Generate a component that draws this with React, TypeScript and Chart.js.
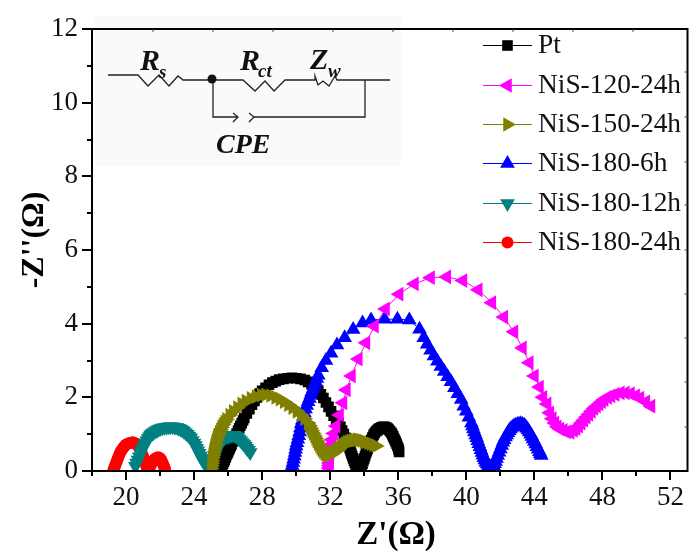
import React, { useEffect, useRef } from "react";
import { Chart, registerables } from "chart.js";
import { drawPoint } from "chart.js/helpers";

Chart.register(...registerables);

const seriesNames = ["Pt", "NiS-120-24h", "NiS-150-24h", "NiS-180-6h", "NiS-180-12h", "NiS-180-24h"];
const seriesColors = ["#000000", "#ff00ff", "#808000", "#0000ff", "#008080", "#ff0000"];
const seriesStyles = ["rect", "triangle", "triangle", "triangle", "triangle", "circle"];
const seriesRotations = [0, -90, 90, 0, 180, 0];
const seriesRadii = [7.5, 8.5, 8.5, 8.5, 8.5, 6];
const seriesOrder = [5, 1, 0, 2, 3, 4];

const ptValues = [[25.5,0],[25.55,.05],[25.6,.1],[25.65,.15],[25.7,.2],[25.75,.25],[25.8,.3],[25.85,.36],[25.9,.42],[25.95,.47],[26,.52],[26.05,.57],[26.1,.62],[26.15,.67],[26.2,.72],[26.28,.8],[26.35,.88],[26.42,.95],[26.5,1.02],[26.58,1.09],[26.65,1.16],[26.72,1.23],[26.8,1.3],[26.88,1.37],[26.95,1.44],[27.1,1.56],[27.25,1.68],[27.4,1.8],[27.55,1.9],[27.7,2],[27.85,2.1],[28,2.18],[28.2,2.26],[28.4,2.34],[28.6,2.4],[28.8,2.44],[29,2.48],[29.25,2.5],[29.5,2.52],[29.75,2.53],[30,2.52],[30.25,2.5],[30.5,2.47],[30.7,2.42],[30.9,2.36],[31.1,2.28],[31.3,2.18],[31.45,2.08],[31.6,1.98],[31.75,1.86],[31.9,1.74],[32.05,1.62],[32.2,1.5],[32.35,1.36],[32.5,1.3],[32.6,1.2],[32.7,1.1],[32.8,1],[32.9,.9],[33,.82],[33.05,.75],[33.1,.68],[33.15,.61],[33.2,.54],[33.25,.47],[33.3,.4],[33.35,.34],[33.4,.28],[33.45,.22],[33.5,.16],[33.55,.12],[33.6,.08],[33.65,.06],[33.7,.05],[33.75,.07],[33.8,.1],[33.85,.15],[33.9,.2],[33.95,.27],[34,.34],[34.05,.41],[34.1,.48],[34.15,.54],[34.2,.6],[34.25,.66],[34.3,.72],[34.35,.78],[34.4,.84],[34.48,.91],[34.55,.98],[34.62,1.03],[34.7,1.08],[34.78,1.11],[34.85,1.14],[34.92,1.16],[35,1.18],[35.08,1.19],[35.15,1.2],[35.22,1.19],[35.3,1.18],[35.38,1.15],[35.45,1.12],[35.52,1.08],[35.6,1.04],[35.65,.99],[35.7,.94],[35.75,.89],[35.8,.84],[35.85,.79],[35.9,.74],[35.95,.68],[36,.62],[36.03,.57],[36.05,.52]];

const nis120Values = [[31.92,0],[31.93,.08],[31.94,.15],[31.95,.22],[31.96,.3],[31.97,.38],[31.98,.46],[32,.54],[32.02,.62],[32.05,.72],[32.1,.85],[32.2,1.02],[32.35,1.22],[32.55,1.52],[32.75,1.85],[32.95,2.2],[33.25,2.58],[33.65,3.04],[34.1,3.48],[34.6,3.93],[35.25,4.4],[36.05,4.8],[36.95,5.08],[37.9,5.25],[38.85,5.27],[39.8,5.17],[40.7,4.92],[41.5,4.57],[42.2,4.18],[42.8,3.78],[43.3,3.34],[43.7,2.94],[44,2.58],[44.3,2.28],[44.5,2],[44.75,1.82],[44.9,1.58],[45.05,1.42],[45.2,1.3],[45.35,1.2],[45.5,1.14],[45.7,1.1],[45.9,1.06],[46.1,1.05],[46.3,1.1],[46.45,1.15],[46.6,1.22],[46.75,1.3],[46.9,1.38],[47.05,1.46],[47.2,1.54],[47.35,1.62],[47.5,1.7],[47.65,1.76],[47.8,1.82],[47.95,1.88],[48.1,1.94],[48.3,2],[48.5,2.04],[48.75,2.08],[49.05,2.12],[49.35,2.12],[49.65,2.1],[49.95,2.04],[50.2,1.98],[50.55,1.88],[50.85,1.76]];

const nis150Values = [[25,0],[25.01,.07],[25.03,.14],[25.04,.21],[25.06,.28],[25.08,.35],[25.1,.42],[25.12,.49],[25.15,.56],[25.18,.63],[25.22,.7],[25.26,.77],[25.3,.84],[25.35,.91],[25.4,.98],[25.48,1.05],[25.55,1.12],[25.62,1.19],[25.7,1.26],[25.8,1.33],[25.9,1.4],[26.1,1.52],[26.3,1.62],[26.55,1.72],[26.8,1.82],[27.05,1.9],[27.35,1.97],[27.65,2.02],[27.95,2.06],[28.2,2.07],[28.5,2.05],[28.8,2],[29.05,1.95],[29.3,1.88],[29.55,1.8],[29.8,1.72],[30.05,1.62],[30.3,1.52],[30.5,1.42],[30.7,1.3],[30.78,1.23],[30.85,1.16],[30.92,1.09],[31,1.02],[31.08,.95],[31.15,.88],[31.22,.81],[31.3,.74],[31.38,.68],[31.45,.62],[31.52,.57],[31.6,.52],[31.68,.49],[31.75,.46],[31.82,.44],[31.9,.43],[31.98,.44],[32.05,.45],[32.12,.47],[32.2,.5],[32.28,.52],[32.35,.55],[32.42,.57],[32.5,.6],[32.6,.64],[32.7,.68],[32.8,.72],[32.9,.75],[33,.78],[33.1,.8],[33.22,.82],[33.35,.83],[33.48,.84],[33.6,.85],[33.72,.84],[33.85,.83],[33.98,.81],[34.1,.79],[34.25,.76],[34.4,.74],[34.55,.71],[34.7,.68]];

const nis1806Values = [[29.7,0],[29.73,.08],[29.77,.15],[29.81,.23],[29.85,.32],[29.89,.41],[29.93,.5],[29.97,.59],[30,.68],[30.05,.77],[30.1,.86],[30.15,.96],[30.2,1.06],[30.25,1.17],[30.3,1.28],[30.36,1.38],[30.42,1.48],[30.48,1.58],[30.55,1.68],[30.62,1.78],[30.7,1.88],[30.78,1.97],[30.85,2.06],[30.92,2.15],[31,2.24],[31.08,2.33],[31.15,2.42],[31.22,2.51],[31.3,2.6],[31.5,2.8],[31.75,3],[32.05,3.2],[32.4,3.42],[32.85,3.62],[33.35,3.84],[33.9,4.02],[34.4,4.1],[35.2,4.12],[35.95,4.12],[36.65,4.1],[37.25,3.85],[37.5,3.62],[37.7,3.44],[37.9,3.28],[38.1,3.12],[38.3,2.98],[38.5,2.84],[38.7,2.7],[38.9,2.56],[39.1,2.42],[39.3,2.26],[39.5,2.1],[39.7,1.94],[39.85,1.76],[40,1.62],[40.15,1.46],[40.3,1.3],[40.36,1.22],[40.42,1.14],[40.48,1.06],[40.55,.98],[40.61,.9],[40.67,.82],[40.73,.74],[40.8,.66],[40.86,.58],[40.92,.5],[40.97,.43],[41.03,.36],[41.09,.3],[41.15,.24],[41.22,.19],[41.3,.14],[41.38,.12],[41.45,.1],[41.52,.12],[41.6,.14],[41.66,.2],[41.72,.26],[41.78,.34],[41.85,.42],[41.92,.51],[42,.6],[42.08,.69],[42.15,.78],[42.22,.85],[42.3,.92],[42.38,.98],[42.45,1.04],[42.52,1.09],[42.6,1.14],[42.7,1.18],[42.8,1.22],[42.9,1.24],[43,1.26],[43.1,1.27],[43.2,1.28],[43.3,1.26],[43.4,1.24],[43.48,1.2],[43.55,1.16],[43.62,1.11],[43.7,1.06],[43.78,1],[43.85,.94],[43.92,.87],[44,.8],[44.08,.73],[44.15,.66],[44.22,.59],[44.3,.52],[44.35,.47],[44.4,.42]];

const nis18012Values = [[20.55,.13],[20.62,.22],[20.7,.3],[20.78,.39],[20.85,.47],[20.92,.55],[21,.62],[21.08,.69],[21.15,.76],[21.22,.82],[21.3,.88],[21.38,.93],[21.45,.98],[21.52,1.01],[21.6,1.04],[21.7,1.07],[21.8,1.1],[21.9,1.13],[22,1.15],[22.12,1.17],[22.25,1.18],[22.38,1.19],[22.5,1.2],[22.62,1.2],[22.75,1.2],[22.88,1.19],[23,1.18],[23.1,1.16],[23.2,1.14],[23.3,1.11],[23.4,1.08],[23.5,1.04],[23.6,1],[23.7,.95],[23.8,.9],[23.9,.83],[24,.76],[24.08,.69],[24.15,.62],[24.22,.55],[24.3,.48],[24.38,.41],[24.45,.34],[24.52,.28],[24.6,.22],[24.68,.17],[24.75,.12],[24.82,.1],[24.9,.1],[24.98,.17],[25.05,.24],[25.12,.33],[25.2,.42],[25.28,.5],[25.35,.58],[25.42,.65],[25.5,.72],[25.58,.78],[25.65,.84],[25.75,.88],[25.85,.92],[25.98,.94],[26.1,.96],[26.22,.97],[26.35,.97],[26.45,.95],[26.55,.92],[26.65,.87],[26.75,.82],[26.85,.77],[26.95,.72],[27.02,.67],[27.1,.62],[27.2,.56],[27.3,.5]];

const nis18024Values = [[19.25,0],[19.28,.05],[19.32,.1],[19.36,.15],[19.4,.2],[19.45,.26],[19.5,.32],[19.55,.38],[19.6,.44],[19.65,.49],[19.7,.54],[19.78,.59],[19.85,.64],[19.92,.68],[20,.72],[20.1,.74],[20.2,.76],[20.3,.77],[20.4,.78],[20.5,.76],[20.6,.74],[20.68,.7],[20.75,.66],[20.82,.6],[20.88,.54],[20.94,.47],[21,.4],[21.05,.33],[21.1,.26],[21.15,.19],[21.2,.12],[21.25,.08],[21.3,.05],[21.36,.08],[21.42,.12],[21.48,.18],[21.55,.24],[21.62,.29],[21.7,.33],[21.8,.36],[21.9,.37],[21.98,.35],[22.05,.32],[22.1,.27],[22.15,.22],[22.2,.16],[22.25,.1],[22.28,.06],[22.3,.02]];

const seriesValues = [ptValues, nis120Values, nis150Values, nis1806Values, nis18012Values, nis18024Values];

const xMin = 18, xMax = 53;
const yMin = 0, yMax = 12;
const xTickValues = [18, 20, 22, 24, 26, 28, 30, 32, 34, 36, 38, 40, 42, 44, 46, 48, 50, 52];
const yTickValues = [0, 1, 2, 3, 4, 5, 6, 7, 8, 9, 10, 11, 12];
const xTitle = "Z'(Ω)";
const yTitle = "-Z''(Ω)";
const SERIF = '"Liberation Serif", "Times New Roman", serif';

const decorations = {
  id: "decorations",
  beforeDraw(chart: any) {
    const c = chart.ctx;
    c.save();
    c.fillStyle = "#fafafa";
    c.fillRect(95, 16, 306, 150);
    c.restore();
  },
  afterDraw(chart: any) {
    const c = chart.ctx;
    const { left, right, top, bottom } = chart.chartArea;
    const xs = chart.scales.x, ys = chart.scales.y;
    c.save();
    c.strokeStyle = "#000";
    c.fillStyle = "#000";

    // frame
    c.lineWidth = 2;
    c.strokeRect(left, top, right - left, bottom - top);

    // outward ticks
    c.beginPath();
    for (const t of xs.ticks) {
      const px = Math.round(xs.getPixelForValue(t.value));
      const len = t.value % 4 === 0 ? 9 : 5;
      c.moveTo(px, bottom);
      c.lineTo(px, bottom + len);
    }
    for (const t of ys.ticks) {
      const py = Math.round(ys.getPixelForValue(t.value));
      const len = t.value % 2 === 0 ? 10 : 5;
      c.moveTo(left, py);
      c.lineTo(left - len, py);
    }
    c.stroke();

    // small inner ticks of the top and right edges
    c.lineWidth = 1;
    c.strokeStyle = "#444";
    c.beginPath();
    for (const px of [153, 213, 273, 333, 393, 453, 513, 573, 633]) {
      c.moveTo(px, top);
      c.lineTo(px, top + 3);
    }
    for (const py of [72, 117, 162, 205, 250, 294, 338, 382, 427]) {
      c.moveTo(right, py);
      c.lineTo(right - 3, py);
    }
    c.stroke();

    // axis titles
    c.fillStyle = "#000";
    c.font = `bold 33px ${SERIF}`;
    c.textAlign = "center";
    c.textBaseline = "alphabetic";
    c.fillText(xTitle, 396, 544);
    c.save();
    c.translate(43, 240);
    c.rotate(-Math.PI / 2);
    c.font = `bold 32px ${SERIF}`;
    c.fillText(yTitle, 0, 0);
    c.restore();

    // legend
    const legendYs = [45, 85, 124, 163, 203, 242];
    chart.data.datasets.forEach((d: any, i: number) => {
      c.strokeStyle = d.borderColor;
      c.lineWidth = 1;
      c.beginPath();
      c.moveTo(483, legendYs[i] + 0.5);
      c.lineTo(532, legendYs[i] + 0.5);
      c.stroke();
      c.fillStyle = d.pointBackgroundColor;
      drawPoint(c, { pointStyle: d.pointStyle, rotation: d.pointRotation, radius: d.pointRadius, borderWidth: 0 }, 507.5, legendYs[i] + 0.5);
      c.fillStyle = "#111";
      c.font = `27.4px ${SERIF}`;
      c.textAlign = "left";
      c.textBaseline = "alphabetic";
      c.fillText(d.label, 538, legendYs[i] + 8);
    });

    // circuit inset
    c.strokeStyle = "#222";
    c.fillStyle = "#111";
    c.lineWidth = 1.3;
    const poly = (pts: number[][]) => {
      c.beginPath();
      pts.forEach((p, i) => (i ? c.lineTo(p[0], p[1]) : c.moveTo(p[0], p[1])));
      c.stroke();
    };
    poly([[108, 75], [138, 75], [148, 86], [159, 75], [169, 86], [178, 76], [183, 80], [243, 80], [255, 91], [265, 81], [274, 91], [285, 80], [315, 80], [315, 76], [318, 85], [323, 81], [329, 86], [335, 76], [337, 80], [390, 80]]);
    poly([[213, 80], [213, 117], [238, 117]]);
    poly([[233, 113], [238, 117], [233, 122]]);
    poly([[249, 113], [254, 117], [249, 122]]);
    poly([[254, 117], [365, 117], [365, 80]]);
    c.beginPath();
    c.arc(212, 79, 4.5, 0, Math.PI * 2);
    c.fill();
    const t = (s: string, x: number, y: number, size: number) => {
      c.font = `italic bold ${size}px ${SERIF}`;
      c.textAlign = "left";
      c.fillText(s, x, y);
    };
    t("R", 140, 70, 30);
    t("s", 159, 78, 19);
    t("R", 240, 70, 30);
    t("ct", 258, 77, 19);
    t("Z", 310, 69, 30);
    t("w", 328, 77, 19);
    t("CPE", 216, 153, 28);
    c.restore();
  },
};

const setTicks = (values: number[]) => (s: any) => {
  s.ticks = values.map((value) => ({ value }));
};

export default function App() {
  const ref = useRef<HTMLCanvasElement>(null);
  useEffect(() => {
    const chart = new Chart(ref.current as HTMLCanvasElement, {
      type: "scatter",
      data: {
        datasets: seriesNames.map((name, i) => ({
          label: name,
          data: seriesValues[i].map(([x, y]) => ({ x, y })),
          showLine: true,
          borderColor: seriesColors[i],
          borderWidth: 1,
          backgroundColor: seriesColors[i],
          pointBackgroundColor: seriesColors[i],
          pointBorderWidth: 0,
          pointStyle: seriesStyles[i],
          pointRotation: seriesRotations[i],
          pointRadius: seriesRadii[i],
          order: seriesOrder[i],
        })),
      },
      options: {
        responsive: false,
        animation: false,
        devicePixelRatio: 1,
        layout: { padding: { top: 29, right: 3 } },
        plugins: { legend: { display: false }, tooltip: { enabled: false } },
        scales: {
          x: {
            type: "linear",
            min: xMin,
            max: xMax,
            afterBuildTicks: setTicks(xTickValues),
            afterFit: (s: any) => { s.height = 83; },
            border: { display: false },
            grid: { drawOnChartArea: false, tickLength: 9, tickColor: "transparent" },
            ticks: {
              autoSkip: false,
              maxRotation: 0,
              padding: 2,
              color: "#111",
              font: { family: SERIF, size: 27 },
              callback: (v: any) => (v % 4 === 0 ? String(v) : ""),
            },
          },
          y: {
            type: "linear",
            min: yMin,
            max: yMax,
            afterBuildTicks: setTicks(yTickValues),
            afterFit: (s: any) => { s.width = 92; },
            border: { display: false },
            grid: { drawOnChartArea: false, tickLength: 10, tickColor: "transparent" },
            ticks: {
              autoSkip: false,
              padding: 4,
              color: "#111",
              font: { family: SERIF, size: 27 },
              callback: (v: any) => (v % 2 === 0 ? String(v) : ""),
            },
          },
        },
      },
      plugins: [decorations],
    } as any);
    return () => chart.destroy();
  }, []);
  return (
    <div style={{ position: "fixed", left: 0, top: 0, width: 696, height: 554, background: "#fff" }}>
      <canvas ref={ref} width={696} height={554} style={{ display: "block" }} />
    </div>
  );
}
